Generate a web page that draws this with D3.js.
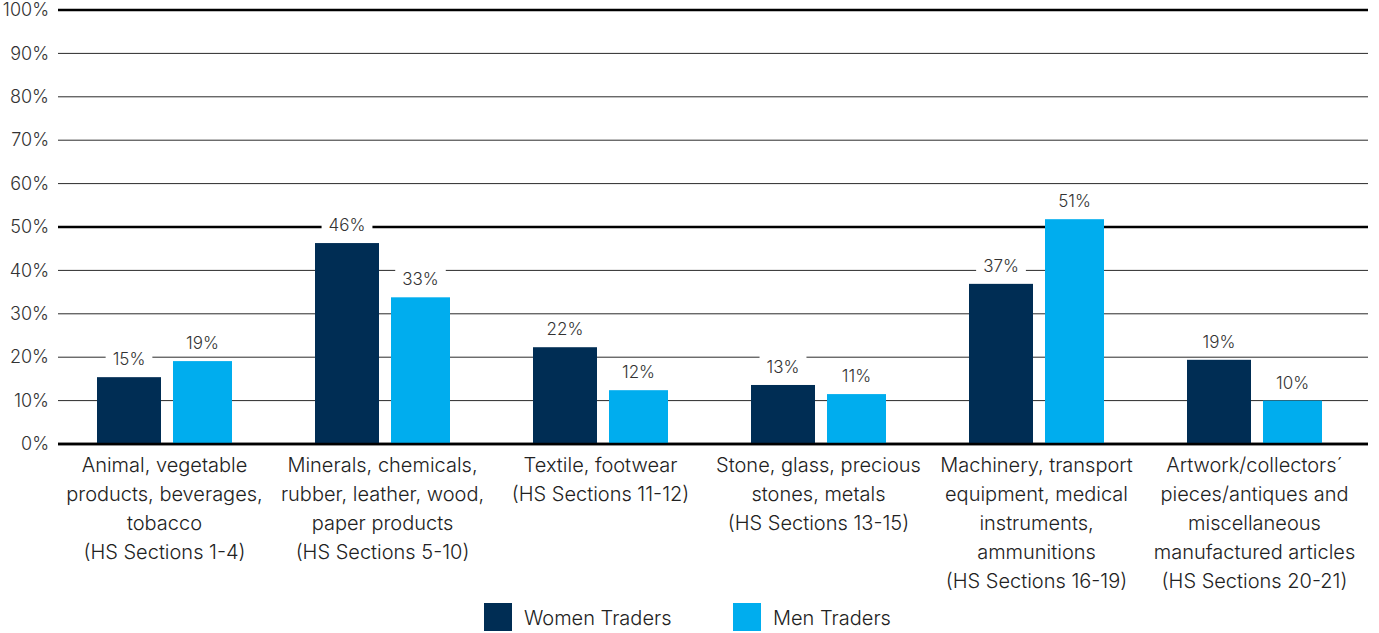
<!DOCTYPE html>
<html>
<head>
<meta charset="utf-8">
<script src="https://cdn.jsdelivr.net/npm/d3@7"></script>
<style>
  html, body { margin: 0; padding: 0; background: #fff; }
  svg { display: block; font-family: Inter, "Noto Sans", sans-serif; font-weight: 300; }
</style>
</head>
<body>
<svg id="chart" width="1379" height="633"></svg>
<script>
const categories = [
  ["Animal, vegetable", "products, beverages,", "tobacco", "(HS Sections 1-4)"],
  ["Minerals, chemicals,", "rubber, leather, wood,", "paper products", "(HS Sections 5-10)"],
  ["Textile, footwear", "(HS Sections 11-12)"],
  ["Stone, glass, precious", "stones, metals", "(HS Sections 13-15)"],
  ["Machinery, transport", "equipment, medical", "instruments,", "ammunitions", "(HS Sections 16-19)"],
  ["Artwork/collectors\u00b4", "pieces/antiques and", "miscellaneous", "manufactured articles", "(HS Sections 20-21)"]
];
const seriesNames = ["Women Traders", "Men Traders"];
const women = [15.4, 46.3, 22.3, 13.6, 36.9, 19.4];
const men = [19.1, 33.8, 12.4, 11.5, 51.8, 10.0];
const womenLabels = ["15%", "46%", "22%", "13%", "37%", "19%"];
const menLabels = ["19%", "33%", "12%", "11%", "51%", "10%"];
const yTicks = [0, 10, 20, 30, 40, 50, 60, 70, 80, 90, 100];

const colors = ["#002d54", "#00adee"];
const svg = d3.select("#chart");

const plotLeft = 58, plotRight = 1368;
const y = d3.scaleLinear().domain([0, 100]).range([444, 10]);
const x0 = d3.scaleBand().domain(d3.range(categories.length)).range([55.5, 1363.5]).padding(0);
const x1 = d3.scaleBand().domain([0, 1]).range([41.5, 181.5]).paddingInner(12 / 76).paddingOuter(0);
const barWidths = [64, 59];

// gridlines
const grid = svg.append("g");
grid.selectAll("line").data(yTicks).join("line")
  .attr("x1", plotLeft).attr("x2", plotRight)
  .attr("y1", d => y(d)).attr("y2", d => y(d))
  .attr("stroke", d => (d % 50 === 0) ? "#000" : "#2a2a2a")
  .attr("stroke-width", d => (d % 50 === 0) ? 2.4 : 1);

// y axis labels
const yAxis = d3.axisLeft(y).tickValues(yTicks).tickFormat(d => d + "%").tickSize(0).tickPadding(0);
const ya = svg.append("g").attr("transform", `translate(49,0)`).call(yAxis);
ya.select(".domain").remove();
ya.selectAll("text").attr("font-size", 18).attr("fill", "#333")
  .attr("font-family", "Inter, sans-serif").attr("font-weight", 300);

const series = [women, men];
const labels = [womenLabels, menLabels];

series.forEach((vals, s) => {
  const g = svg.append("g");
  g.selectAll("rect").data(vals).join("rect")
    .attr("x", (d, i) => x0(i) + x1(s))
    .attr("width", barWidths[s])
    .attr("y", d => y(d))
    .attr("height", d => y(0) - y(d))
    .attr("fill", colors[s]);
});

// value labels with white boxes
series.forEach((vals, s) => {
  const g = svg.append("g");
  vals.forEach((v, i) => {
    const cx = x0(i) + x1(s) + barWidths[s] / 2;
    const cy = y(v) - 18;
    const t = g.append("text")
      .attr("x", cx).attr("y", cy)
      .attr("text-anchor", "middle").attr("dominant-baseline", "central")
      .attr("font-size", 17).attr("fill", "#333")
      .text(labels[s][i]);
    const bb = t.node().getBBox();
    g.insert("rect", "text")
      .attr("x", bb.x - 7).attr("y", bb.y - 1)
      .attr("width", bb.width + 14).attr("height", bb.height + 2)
      .attr("fill", "#fff");
  });
});

// bottom baseline on top of bars
svg.append("line").attr("x1", plotLeft).attr("x2", plotRight)
  .attr("y1", y(0)).attr("y2", y(0)).attr("stroke", "#000").attr("stroke-width", 2.4);

// category labels
const cat = svg.append("g");
categories.forEach((lines, i) => {
  const cx = x0(i) + x0.bandwidth() / 2;
  const t = cat.append("text").attr("text-anchor", "middle")
    .attr("font-size", 20).attr("fill", "#222");
  lines.forEach((ln, j) => {
    t.append("tspan").attr("x", cx).attr("y", 472 + j * 29).text(ln);
  });
});

// legend
const legend = svg.append("g");
const legX = [484, 733];
seriesNames.forEach((name, s) => {
  legend.append("rect").attr("x", legX[s]).attr("y", 603).attr("width", 28).attr("height", 28).attr("fill", colors[s]);
  legend.append("text").attr("x", legX[s] + 40).attr("y", 618)
    .attr("dominant-baseline", "central").attr("font-size", 20).attr("fill", "#222").text(name);
});
</script>
</body>
</html>
